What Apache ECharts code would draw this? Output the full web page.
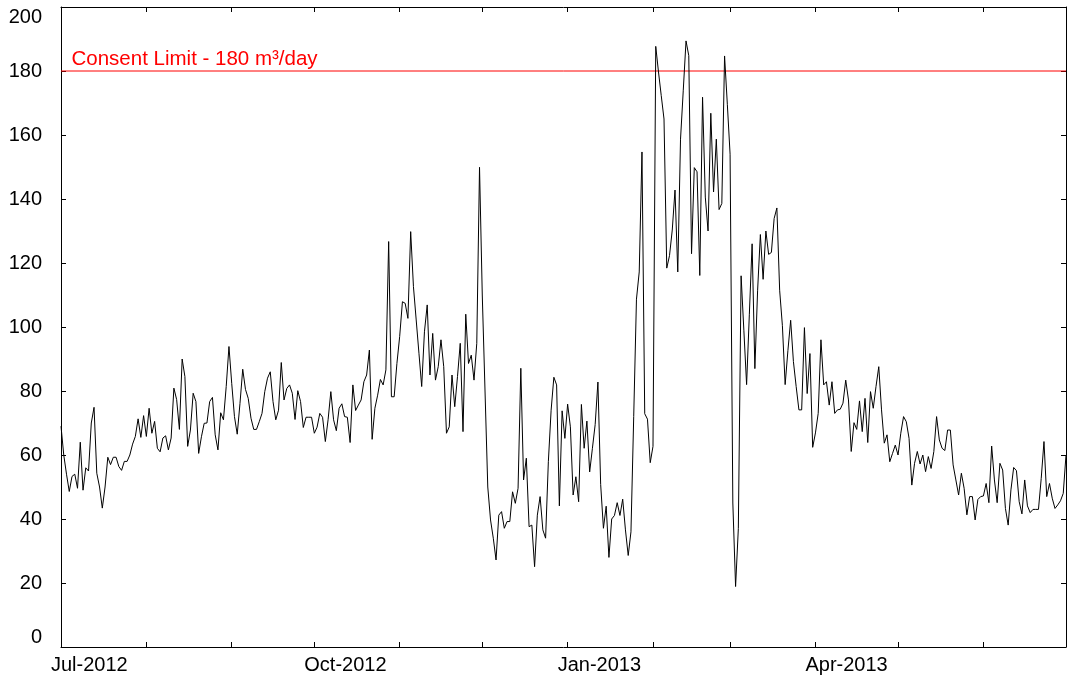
<!DOCTYPE html>
<html>
<head>
<meta charset="utf-8">
<script src="https://cdn.jsdelivr.net/npm/echarts@6/dist/echarts.min.js"></script>
<style>
html,body{margin:0;padding:0;background:#fff;}
#chart{width:1067px;height:677px;}
</style>
</head>
<body>
<div id="chart"></div>
<script>
// Daily values (m3/day), one per day starting 1 Jul 2012
const startDate = [2012, 7, 1];
const flowJulSep2012 = [69, 60, 54, 48.6, 53.3, 54, 49.6, 64, 49, 56, 55, 70, 74.9, 54.3, 50, 43.4, 50, 59.3, 57, 59.3, 59.3, 56.4, 55.2, 58, 58, 60, 63.4, 65.8, 71.3, 65.5, 72.3, 65.8, 74.6, 66.8, 70.5, 62.1, 61, 65.3, 66, 61.6, 65.3, 80.9, 77.3, 68, 90, 84.5, 62.7,
  67.8, 79.3, 76.7, 60.5, 65.7, 69.9, 70, 76.7, 78, 66.3, 61.6, 73.2, 71, 81.4, 93.9, 82.4, 72, 66.5, 76.1, 86.8, 80.5, 77.7, 71.5, 68, 68, 70.4, 73, 79.8, 84, 86, 76.7, 71, 74, 88.9, 77.2, 80.8, 81.9, 79.3, 71.1, 80.1, 76.7, 68.6, 71.8, 71.8, 71.8];
const flowOctNov2012 = [66.8, 68.7, 73, 71.8, 64.2, 71, 79.8, 71, 67.6, 74.6, 76, 72, 71.8, 63.9, 81.9, 73.9, 75.6, 77.2, 82.9, 85, 92.8, 64.9, 74.6, 78.7, 83.6, 81.9, 86.6, 126.7, 78.2, 78.2, 88.6, 97, 107.9, 107.4, 102.7, 129.8, 112.6, 102.2, 91.8, 81.4, 98.5, 106.9, 85, 98, 83.4, 87.6, 96, 87.6];
const flowDec2012 = [66.8, 68.8, 85, 75.1, 84.5, 94.9, 67.3, 104, 88.6, 91.2, 83.4, 94.9, 149.9, 110, 80, 50, 39.7, 34, 27.2, 41.2, 42.3, 37.1, 39.2, 39.2, 48.5, 44.9, 49.6, 87.1, 52.2, 59, 37.6, 38.1, 25.1, 41.2, 47, 36.6, 34, 57.9, 74, 84.3, 81.9, 44.1, 73.8, 65.2, 75.9, 68.8, 47.5, 53.2, 45.4];
const flowJanFeb2013 = [75.8, 62.1, 70.6, 54.7, 62.1, 69.5, 82.8, 50.8, 37.1, 44, 28, 40, 41.1, 45.1, 41.1, 46.2, 36.6, 28.6, 36, 72, 108.7, 117.2, 154.7, 72.9, 71.2, 57.6, 62.7, 187.7, 179.7, 172.3, 165, 118.4, 122.3, 130.3, 142.8, 117.2, 158.7, 174, 189.4, 184.8, 122.9, 149.8, 148.5, 116.1];
const flowFebApr2013 = [171.8, 140.6, 130, 166.8, 142.2, 158.7, 136.7, 138.6, 184.7, 169.6, 154, 45, 18.9, 37, 116, 99, 82, 104, 126, 87, 111.5, 128.9, 114.9, 130, 122.7, 123.3, 133.9, 137.2, 111.5, 100.4, 82, 92.6, 102.1, 89.2, 81.4, 74.1, 74.1, 99.8, 79.2, 91.7, 62.4, 66.9, 73];
const flowAprMay2013 = [96, 81.9, 82.9, 75.6, 82.9, 73, 74.1, 74.3, 76.2, 83.4, 77.2, 61.1, 70.1, 68, 76.9, 67.3, 77.7, 63.9, 79.8, 74.6, 81.4, 87.6, 74.1, 63.7, 66.3, 57.9, 60.5, 63.1, 60, 66.8, 72, 70.4, 65.2, 50.6, 57.4, 61.1, 57.2, 60, 54.8, 59.5, 55.8, 61.1, 72, 64.7, 62.1, 61.4];
const flowMayJul2013 = [67.8, 67.8, 56.9, 52.2, 47.5, 54.3, 49.6, 41.3, 47, 47, 39.7, 46.1, 47, 47.2, 51.1, 45.1, 62.8, 52.2, 45.1, 57.4, 55.3, 43.3, 38.1, 49.1, 56.1, 55.1, 45.4, 41.6, 52.2, 44.1, 42, 43, 43, 43, 52.7, 64.2, 47, 51.1, 46.5, 43.3, 44.4, 45.7, 48, 60];

const xMinDate = [2012, 7, 1];
const xMaxDate = [2013, 7, 1];
const monthTickDates = [[2012,8,1],[2012,9,1],[2012,10,1],[2012,11,1],[2012,12,1],[2013,1,1],[2013,2,1],[2013,3,1],[2013,4,1],[2013,5,1],[2013,6,1]];
const xLabelDates = [[2012,7,1],[2012,10,1],[2013,1,1],[2013,4,1]];
const xLabelTexts = ['Jul-2012', 'Oct-2012', 'Jan-2013', 'Apr-2013'];
const yMin = 0, yMax = 200, yStep = 20;
const limitValue = 180;
const limitText = 'Consent Limit - 180 m³/day';

// day number counted from startDate (x axis unit = days)
const DAY = 86400000;
const dayOf = (d) => Math.round((Date.UTC(d[0], d[1] - 1, d[2]) - Date.UTC(startDate[0], startDate[1] - 1, startDate[2])) / DAY);
const flow = [].concat(flowJulSep2012, flowOctNov2012, flowDec2012, flowJanFeb2013, flowFebApr2013, flowAprMay2013, flowMayJul2013);
const seriesData = flow.map((v, i) => [i, v]);
const tickDays = monthTickDates.map(dayOf);
const labelDays = xLabelDates.map(dayOf);
const xMin = dayOf(xMinDate), xMax = dayOf(xMaxDate);

const FONT = 'Liberation Sans, Arial, Helvetica, sans-serif';
const black = '#000';
const red = '#ff0000';

function xAx(pos, showLabel) {
  return {
    type: 'value', position: pos, min: xMin, max: xMax,
    axisLine: { show: true, onZero: false, lineStyle: { color: black, width: 1 } },
    axisTick: { show: true, inside: true, length: 5, customValues: tickDays, lineStyle: { color: black, width: 1 } },
    axisLabel: {
      show: showLabel, customValues: labelDays,
      formatter: (v) => {
        let best = 0, bd = Infinity;
        labelDays.forEach((t, i) => { const d = Math.abs(t - v); if (d < bd) { bd = d; best = i; } });
        return xLabelTexts[best];
      },
      align: 'left', padding: [0, 0, 0, -10], margin: 8,
      color: black, fontSize: 20, fontFamily: FONT
    },
    splitLine: { show: false }
  };
}
function yAx(pos, showLabel) {
  return {
    type: 'value', position: pos, min: yMin, max: yMax, interval: yStep,
    axisLine: { show: true, onZero: false, lineStyle: { color: black, width: 1 } },
    axisTick: { show: true, inside: true, length: 5, lineStyle: { color: black, width: 1 } },
    axisLabel: {
      show: showLabel, color: black, fontSize: 20, fontFamily: FONT, margin: 19,
      verticalAlignMinLabel: 'bottom', verticalAlignMaxLabel: 'top'
    },
    splitLine: { show: false }
  };
}

const chart = echarts.init(document.getElementById('chart'), null, { renderer: 'canvas' });
chart.setOption({
  animation: false,
  backgroundColor: '#fff',
  grid: { left: 61, right: 1, top: 7, bottom: 30, containLabel: false, outerBoundsMode: 'none' },
  xAxis: [xAx('bottom', true), xAx('top', false)],
  yAxis: [yAx('left', true), yAx('right', false)],
  series: [{
    name: 'limit', type: 'line', xAxisIndex: 0, yAxisIndex: 0, z: 2,
    data: [[xMin, limitValue], [xMax, limitValue]],
    showSymbol: false, symbol: 'none', silent: true,
    color: red,
    lineStyle: { color: red, width: 1, type: 'solid' }
  }, {
    name: 'flow', type: 'line', xAxisIndex: 0, yAxisIndex: 0, z: 3,
    data: seriesData, showSymbol: false, symbol: 'none',
    color: black,
    lineStyle: { color: black, width: 1 }
  }]
});

// place the limit caption just above the limit line, using the chart's own scale
const p = chart.convertToPixel({ xAxisIndex: 0, yAxisIndex: 0 }, [xMin, limitValue]);
chart.setOption({
  graphic: [{
    type: 'text', x: p[0] + 10.5, y: p[1] - 1, z: 10, silent: true,
    style: {
      text: limitText, fill: red, font: '20.5px ' + FONT,
      textAlign: 'left', textVerticalAlign: 'bottom'
    }
  }]
});
</script>
</body>
</html>
